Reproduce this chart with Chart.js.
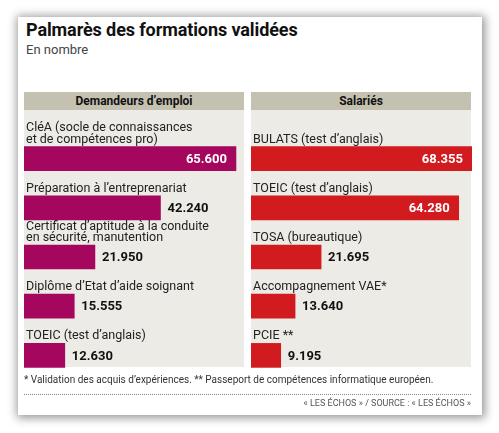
<!DOCTYPE html>
<html>
<head>
<meta charset="utf-8">
<script src="https://cdn.jsdelivr.net/npm/chart.js@4"></script>
<style>
  body { margin: 0; width: 499px; height: 433px; background: #fff; font-family: Roboto, "Liberation Sans", sans-serif; overflow: hidden; }
  #card { position: absolute; left: 18px; top: 17px; width: 464px; height: 398px; background: #fff; box-shadow: 1px 1px 9px 2px rgba(0,0,0,0.42); }
  .title { position: absolute; left: 26px; top: 19px; font-size: 18px; font-weight: 700; color: #111; letter-spacing: -0.1px; }
  .sub { position: absolute; left: 26px; top: 42px; font-size: 13px; color: #444; }
  .head { position: absolute; top: 92px; height: 18px; line-height: 18px; background: #c4c1b0; text-align: center; font-size: 12px; font-weight: 700; color: #111; }
  .panel { position: absolute; top: 110px; height: 257px; background: #ecebe5; }
  .chartbox { position: absolute; top: 110px; height: 270px; }
  .note { position: absolute; left: 24px; top: 374px; font-size: 10px; color: #333; }
  .rule { position: absolute; left: 24px; top: 394px; width: 447px; border-top: 1px dotted #888; }
  .source { position: absolute; right: 28px; top: 398px; font-size: 9px; color: #555; }
</style>
</head>
<body>
<div id="card"></div>
<div class="title">Palmarès des formations validées</div>
<div class="sub">En nombre</div>

<div class="head" style="left:24px;width:220px">Demandeurs d’emploi</div>
<div class="head" style="left:251px;width:220px">Salariés</div>
<div class="panel" style="left:24px;width:220px"></div>
<div class="panel" style="left:251px;width:220px"></div>
<div class="chartbox" style="left:24px;width:221px"><canvas id="left-chart"></canvas></div>
<div class="chartbox" style="left:251px;width:221px"><canvas id="right-chart"></canvas></div>

<div class="note">* Validation des acquis d’expériences. ** Passeport de compétences informatique européen.</div>
<div class="rule"></div>
<div class="source">« LES ÉCHOS » / SOURCE : « LES ÉCHOS »</div>

<script>
// Demandeurs d'emploi
const leftLabels = [
  ['CléA (socle de connaissances', 'et de compétences pro)'],
  ['Préparation à l’entreprenariat'],
  ['Certificat d’aptitude à la conduite', 'en sécurité, manutention'],
  ['Diplôme d’Etat d’aide soignant'],
  ['TOEIC (test d’anglais)']
];
const leftValues = [65600, 42240, 21950, 15555, 12630];

// Salariés
const rightLabels = [
  ['BULATS (test d’anglais)'],
  ['TOEIC (test d’anglais)'],
  ['TOSA (bureautique)'],
  ['Accompagnement VAE*'],
  ['PCIE **']
];
const rightValues = [68355, 64280, 21695, 13640, 9195];

const axisMax = 68400;

function fmt(v) {
  return String(v).replace(/\B(?=(\d{3})+(?!\d))/g, '.');
}

// draws category label above each bar and the value inside / after it
const barLabels = {
  id: 'barLabels',
  afterDatasetsDraw(chart) {
    const ctx = chart.ctx;
    const meta = chart.getDatasetMeta(0);
    const labels = chart.data.labels;
    const values = chart.data.datasets[0].data;
    ctx.save();
    meta.data.forEach((bar, i) => {
      const top = bar.y - bar.height / 2;
      const lines = labels[i];
      ctx.font = '400 12.5px Roboto, sans-serif';
      ctx.fillStyle = '#222';
      ctx.textAlign = 'left';
      ctx.textBaseline = 'alphabetic';
      lines.forEach((line, j) => {
        const y = top - 4 - (lines.length - 1 - j) * 11.5;
        ctx.fillText(line, 2, y);
      });
      ctx.font = '700 13px Roboto, sans-serif';
      ctx.textBaseline = 'middle';
      if (values[i] > 50000) {
        ctx.fillStyle = '#fff';
        ctx.textAlign = 'right';
        ctx.fillText(fmt(values[i]), bar.x - 9, bar.y + 1);
      } else {
        ctx.fillStyle = '#111';
        ctx.textAlign = 'left';
        ctx.fillText(fmt(values[i]), bar.x + 7, bar.y + 1);
      }
    });
    ctx.restore();
  }
};

function makeChart(id, labels, values, color) {
  return new Chart(document.getElementById(id), {
    type: 'bar',
    data: {
      labels: labels,
      datasets: [{
        data: values,
        backgroundColor: color,
        barThickness: 24
      }]
    },
    options: {
      indexAxis: 'y',
      responsive: true,
      maintainAspectRatio: false,
      animation: false,
      layout: { padding: { top: 24, left: 0, right: 0, bottom: 0 } },
      plugins: { legend: { display: false }, tooltip: { enabled: false } },
      scales: {
        x: { display: false, min: 0, max: axisMax },
        y: { display: false }
      }
    },
    plugins: [barLabels]
  });
}

makeChart('left-chart', leftLabels, leftValues, '#a5065e');
makeChart('right-chart', rightLabels, rightValues, '#d11b1f');
</script>
</body>
</html>
